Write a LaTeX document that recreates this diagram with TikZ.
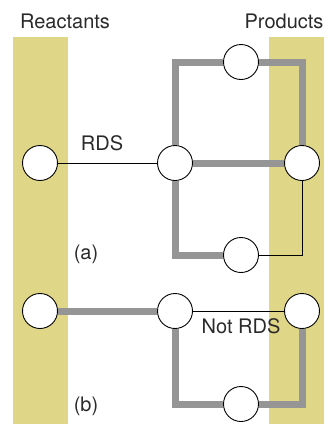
\documentclass[tikz,border=0pt]{standalone}
\usepackage{fontspec}
\setmainfont{TeX Gyre Heros}
\usepackage{tikz}
\usetikzlibrary{positioning}
\definecolor{rxband}{HTML}{E0D688}
\definecolor{rxgray}{HTML}{959595}
\definecolor{rxink}{HTML}{2A2A2A}

\begin{document}
\begin{tikzpicture}[
  x=1pt, y=-1pt,
  font=\fontsize{20}{22}\selectfont, text=rxink,
  site/.style={circle, draw=black, line width=0.9pt, fill=white,
               minimum size=35pt, inner sep=0pt},
  lbl/.style={anchor=base, inner sep=0pt},
  fast/.style={draw=rxgray, line width=7pt},
  slow/.style={draw=black, line width=0.9pt}
]
  \useasboundingbox (0,0) rectangle (330,424);
  \fill[rxband] (13,37) rectangle (68,424);
  \fill[rxband] (269,37) rectangle (324,424);

  \node[lbl] (react) at (65,28) {Reactants};
  \node[lbl] (prod) at (284,28) {Products};

  % (a)
  \node[site] (ra) at (40,163) {};
  \node[site] (ia) at (175,163) {};
  \node[site] (ta) at (241,62) {};
  \node[site] (pa) at (302,163) {};
  \node[site] (ba) at (241,255) {};
  \node[lbl] (rds) at (102,150) {RDS};
  \node[lbl] (capa) at (86,259) {(a)};
  \draw[slow] (ra) -- (ia);
  \draw[fast] (ia) |- (ta);
  \draw[fast] (ta) -| (pa);
  \draw[fast] (ia) -- (pa);
  \draw[fast] (ia) |- (ba);
  \draw[slow] (ba) -| (pa);

  % (b)
  \node[site] (rb) at (40,311) {};
  \node[site] (ib) at (175,311) {};
  \node[site] (pb) at (302,311) {};
  \node[site] (bb) at (241,404) {};
  \node[lbl] (nrds) at (241,333) {Not RDS};
  \node[lbl] (capb) at (86,411) {(b)};
  \draw[fast] (rb) -- (ib);
  \draw[slow] (ib) -- (pb);
  \draw[fast] (ib) |- (bb);
  \draw[fast] (bb) -| (pb);
\end{tikzpicture}
\end{document}
